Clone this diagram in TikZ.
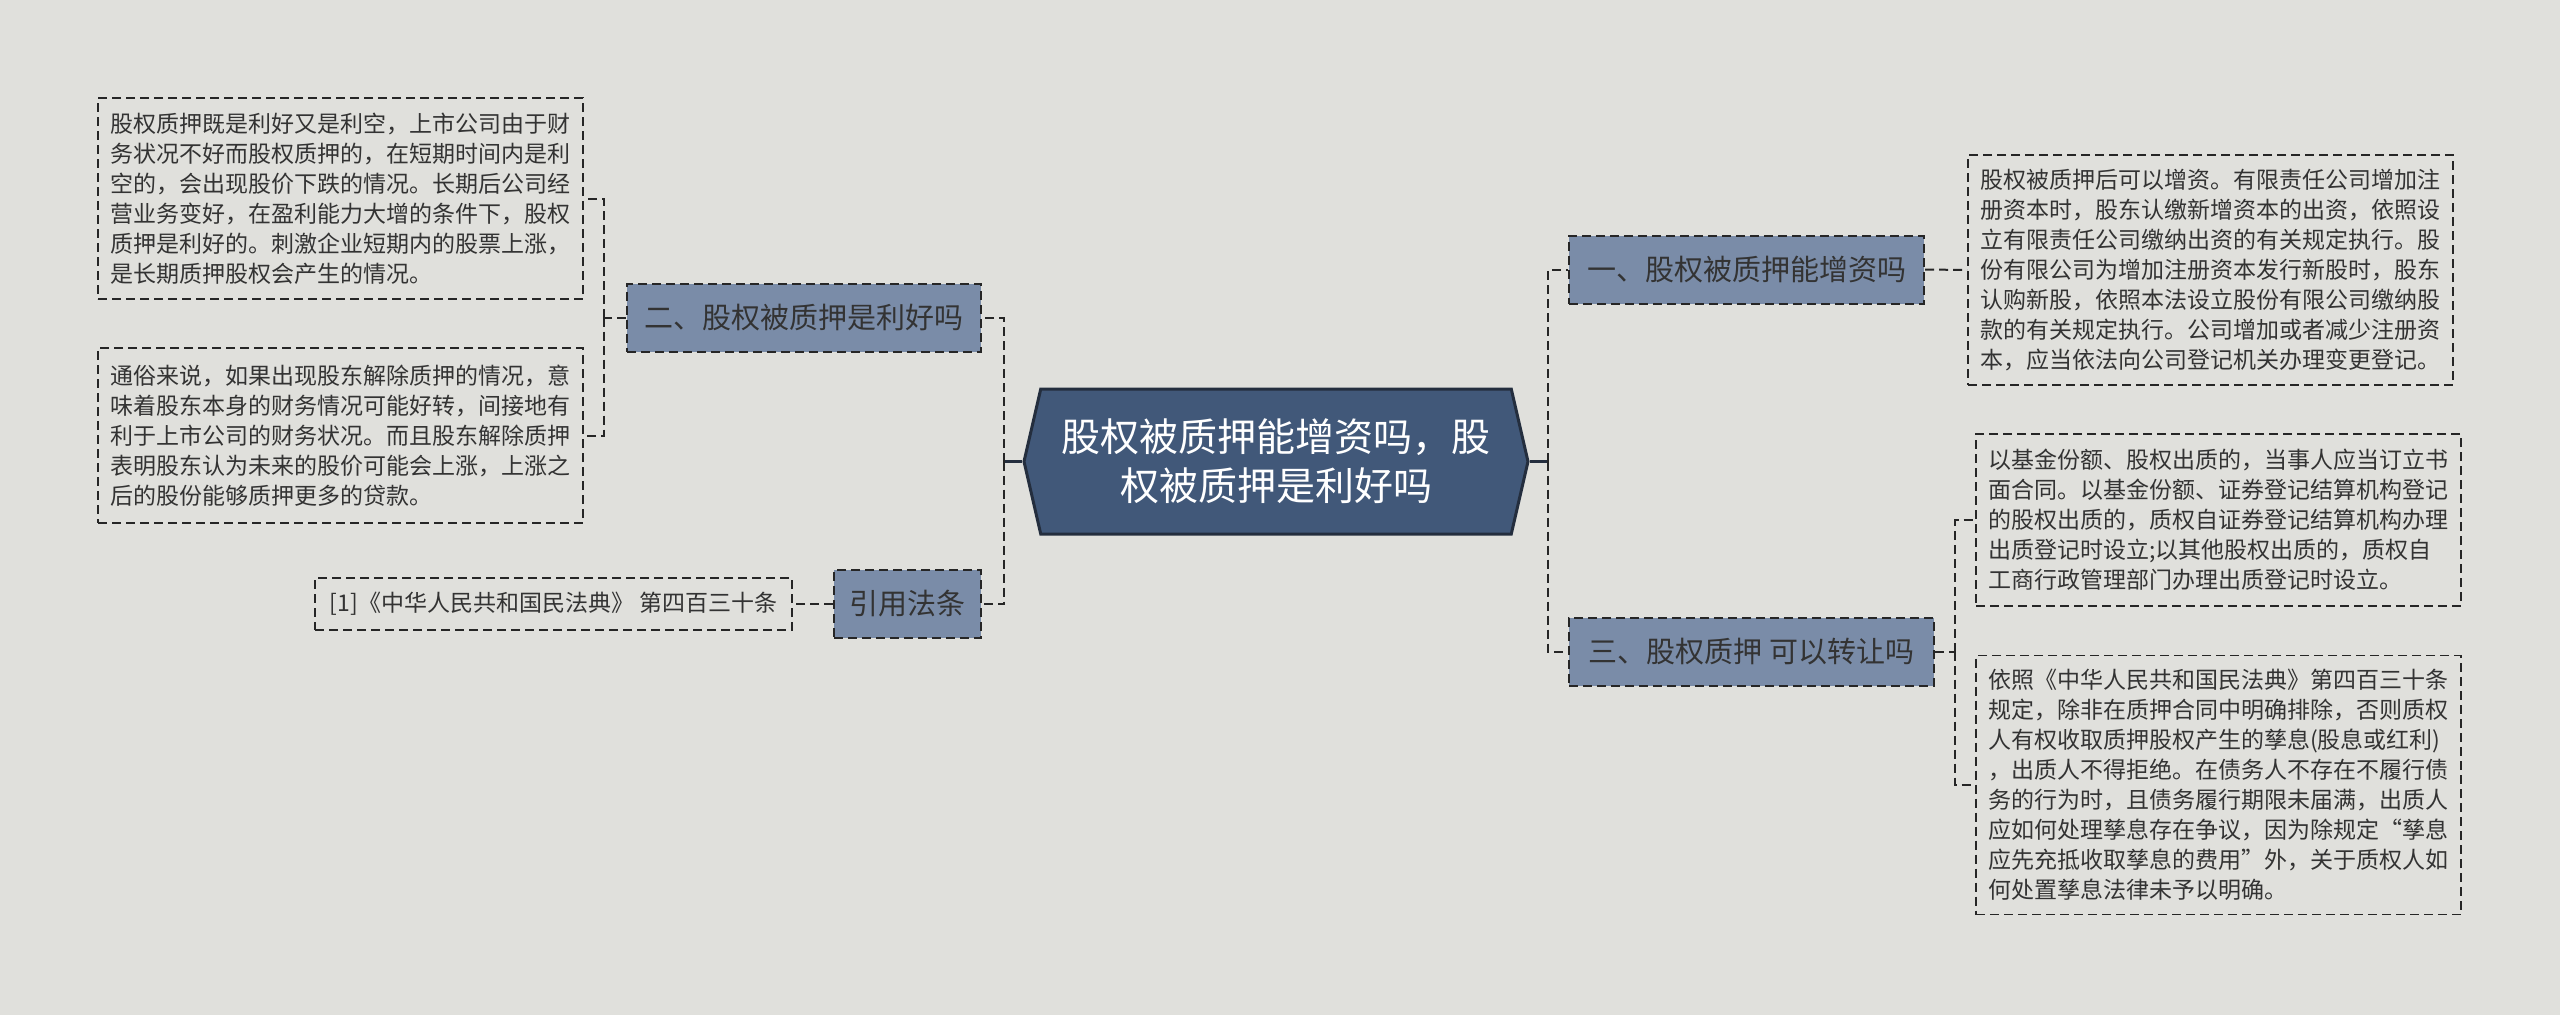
\documentclass[tikz,border=0pt]{standalone}
\usepackage{fontspec}
\setmainfont{Noto Sans CJK SC}
\usepackage{xcolor}
\usepackage{tikz}
\usetikzlibrary{positioning,shapes.symbols}
\definecolor{bgpaper}{RGB}{224,224,220}
\definecolor{rootfill}{RGB}{65,88,121}
\definecolor{rootline}{RGB}{36,46,62}
\definecolor{topicfill}{RGB}{122,140,168}
\definecolor{inkgray}{RGB}{51,51,51}
\tikzset{
  rootnode/.style  = {signal, signal to=west and east, signal pointer angle=154,
                      fill=rootfill, draw=rootline, line width=3pt, text=white,
                      minimum width=504pt, minimum height=145pt, inner sep=2pt,
                      align=center, font=\fontsize{39}{49}\selectfont},
  topicnode/.style = {rectangle, fill=topicfill, draw=black!85, line width=2pt,
                      dash pattern=on 9pt off 5pt, text=inkgray, inner sep=4pt,
                      minimum height=68pt, font=\fontsize{29}{35}\selectfont},
  leafnode/.style  = {rectangle, draw=black!85, line width=1.8pt,
                      dash pattern=on 9pt off 5pt, text=inkgray,
                      text width=461pt, inner xsep=12pt, align=left,
                      font=\fontsize{23}{30}\selectfont},
  citenode/.style  = {rectangle, draw=black!85, line width=1.8pt,
                      dash pattern=on 9pt off 5pt, text=inkgray,
                      font=\fontsize{23}{30}\selectfont},
  link/.style      = {draw=black!85, line width=2pt, dash pattern=on 9pt off 5pt},
  stub/.style      = {draw=rootline, line width=3pt}
}

\begin{document}
\begin{tikzpicture}[x=1pt, y=-1pt]
  \fill[bgpaper] (0,0) rectangle (2560,1015);
  \useasboundingbox (0,0) rectangle (2560,1015);
  % Root
  \node[rootnode] (root) at (1276,461.5)
    {股权被质押能增资吗，股\\权被质押是利好吗};
  % Topics, left
  \node[topicnode, minimum width=354pt] (good) at (804,317.5) {二、股权被质押是利好吗};
  \node[topicnode, minimum width=147pt] (law)  at (907.5,604) {引用法条};
  % Topics, right
  \node[topicnode, minimum width=355pt] (raise) at (1746.5,269.5) {一、股权被质押能增资吗};
  \node[topicnode, minimum width=365pt] (move)  at (1751.5,651.5) {三、股权质押 可以转让吗};
  % Leaves, left
  \node[leafnode, minimum height=201pt] (good1) at (340.5,198.5)
    {股权质押既是利好又是利空，上市公司由于财\\
     务状况不好而股权质押的，在短期时间内是利\\
     空的，会出现股价下跌的情况。长期后公司经\\
     营业务变好，在盈利能力大增的条件下，股权\\
     质押是利好的。刺激企业短期内的股票上涨，\\
     是长期质押股权会产生的情况。};
  \node[leafnode, minimum height=175pt] (good2) at (340.5,435.5)
    {通俗来说，如果出现股东解除质押的情况，意\\
     味着股东本身的财务情况可能好转，间接地有\\
     利于上市公司的财务状况。而且股东解除质押\\
     表明股东认为未来的股价可能会上涨，上涨之\\
     后的股份能够质押更多的贷款。};
  \node[citenode, minimum width=477pt, minimum height=52pt] (cite) at (553.5,604)
    {[1]《中华人民共和国民法典》 第四百三十条};
  % Leaves, right
  \node[leafnode, minimum height=230pt] (raise1) at (2210.5,270)
    {股权被质押后可以增资。有限责任公司增加注\\
     册资本时，股东认缴新增资本的出资，依照设\\
     立有限责任公司缴纳出资的有关规定执行。股\\
     份有限公司为增加注册资本发行新股时，股东\\
     认购新股，依照本法设立股份有限公司缴纳股\\
     款的有关规定执行。公司增加或者减少注册资\\
     本，应当依法向公司登记机关办理变更登记。};
  \node[leafnode, minimum height=172pt] (move1) at (2218.5,520)
    {以基金份额、股权出质的，当事人应当订立书\\
     面合同。以基金份额、证券登记结算机构登记\\
     的股权出质的，质权自证券登记结算机构办理\\
     出质登记时设立;以其他股权出质的，质权自\\
     工商行政管理部门办理出质登记时设立。};
  \node[leafnode, minimum height=259pt] (move2) at (2218.5,785)
    {依照《中华人民共和国民法典》第四百三十条\\
     规定，除非在质押合同中明确排除，否则质权\\
     人有权收取质押股权产生的孳息(股息或红利)\\
     ，出质人不得拒绝。在债务人不存在不履行债\\
     务的行为时，且债务履行期限未届满，出质人\\
     应如何处理孳息存在争议，因为除规定“孳息\\
     应先充抵收取孳息的费用”外，关于质权人如\\
     何处置孳息法律未予以明确。};
  % Joints
  \coordinate (jl) at (1004,461.5);
  \coordinate (jr) at (1548,461.5);
  \coordinate (jg) at (604,317.5);
  \coordinate (jm) at (1955,651.5);
  % Edges
  \draw[stub] (root.west) -- (jl);
  \draw[stub] (root.east) -- (jr);
  \draw[link] (jl) |- (good.east);  \draw[link] (jl) |- (law.east);
  \draw[link] (jr) |- (raise.west); \draw[link] (jr) |- (move.west);
  \draw[link] (good.west) -- (jg);
  \draw[link] (jg) |- (good1.east); \draw[link] (jg) |- (good2.east);
  \draw[link] (law.west) -- (cite.east);
  \draw[link] (raise.east) -- (raise1.west);
  \draw[link] (move.east) -- (jm);
  \draw[link] (jm) |- (move1.west); \draw[link] (jm) |- (move2.west);
\end{tikzpicture}
\end{document}
